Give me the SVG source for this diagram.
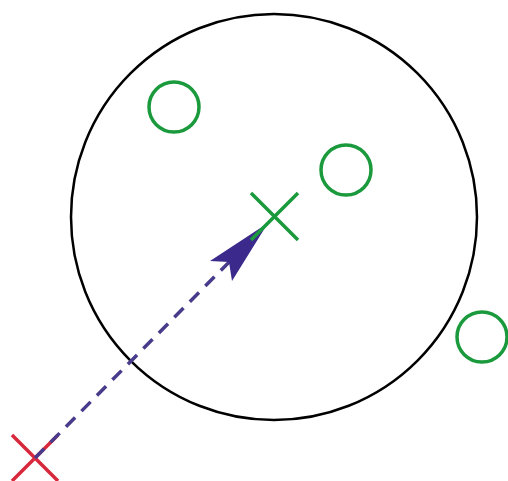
<svg xmlns="http://www.w3.org/2000/svg" width="508" height="481" viewBox="0 0 508 481">
<style>
.g{fill:none;stroke:#1a9a3c;stroke-width:3.5}
.r{fill:none;stroke:#d8283c;stroke-width:3.5}
.b{fill:none;stroke:#000;stroke-width:2.5}
.d{fill:none;stroke:#473c8c;stroke-width:3.5;stroke-dasharray:13 9}
</style>
<rect width="508" height="481" fill="#fff"/>
<g id="region"><circle class="b" cx="274" cy="217" r="203"/></g>
<g id="p1"><circle class="g" cx="174" cy="107" r="25"/></g>
<g id="p2"><circle class="g" cx="346" cy="170" r="25"/></g>
<g id="p3"><circle class="g" cx="482" cy="337" r="25"/></g>
<g id="start"><path class="r" d="M12,435 L58,481 M12,481 L58,435"/></g>
<g id="connectors">
<path class="d" d="M35,458 L245,246"/>
<polygon points="268,223 210,261 229,262 232,281" fill="#3b2a8c"/>
</g>
<g id="center"><path class="g" d="M251,193 L298,240 M251,240 L298,193"/></g>
</svg>
